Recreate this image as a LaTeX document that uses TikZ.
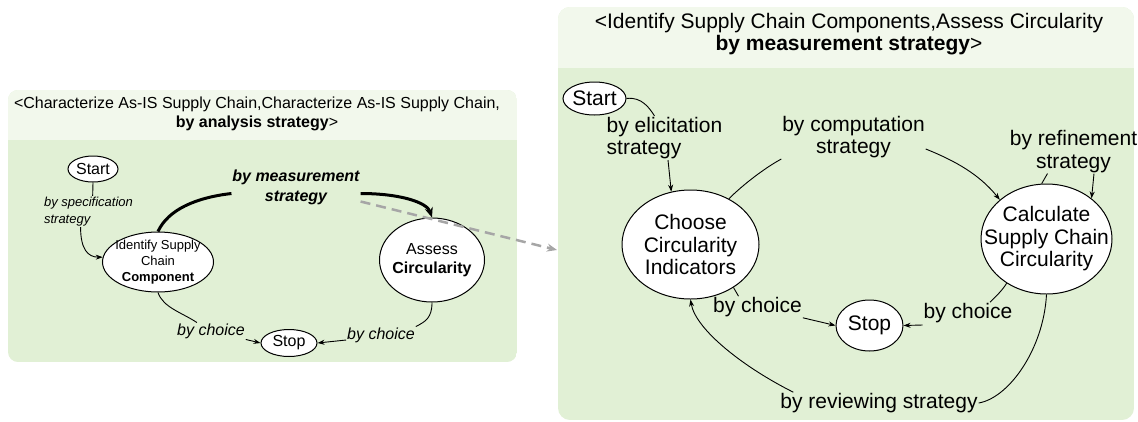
\documentclass[tikz,border=0pt]{standalone}
\usepackage{fontspec}
\setmainfont{Liberation Sans}
\usetikzlibrary{shapes.geometric,arrows.meta}

\definecolor{panelbody}{HTML}{E1F0D5}
\definecolor{panelhead}{HTML}{F2F8EC}
\definecolor{linkgray}{HTML}{A6A6A6}

\newcommand\fsmall{\fontsize{13}{16}\selectfont}
\newcommand\fspec{\fontsize{13}{17}\selectfont\itshape}
\newcommand\fmid{\fontsize{16}{19.5}\selectfont}
\newcommand\fbig{\fontsize{21}{22.5}\selectfont}

\tikzset{
  stnode/.style={ellipse, draw, fill=white, line width=1pt, inner sep=0pt},
  sttext/.style={align=center, inner sep=0pt},
  lbl/.style={inner sep=1pt, outer sep=0pt, align=center},
  conn/.style={line width=0.9pt},
  tip/.style={-{Stealth[length=7pt,width=5pt]}},
}

\begin{document}
\begin{tikzpicture}[x=1pt, y=-1pt]
\useasboundingbox (0,0) rectangle (1138,421);

% Panels
\begin{scope}
  \clip[rounded corners=10pt] (8,90) rectangle (517,362);
  \fill[panelbody] (8,90) rectangle (517,362);
  \fill[panelhead] (8,90) rectangle (517,140);
\end{scope}
\begin{scope}
  \clip[rounded corners=12pt] (558,7) rectangle (1134,420);
  \fill[panelbody] (558,7) rectangle (1134,420);
  \fill[panelhead] (558,7) rectangle (1134,68);
\end{scope}

% Headers
\node[lbl, font=\fmid] (lhead) at (257,114)
  {<Characterize As-IS Supply Chain,Characterize As-IS Supply Chain,\\\textbf{by analysis strategy}>};
\node[lbl, font=\fbig] (rhead) at (849,34)
  {<Identify Supply Chain Components,Assess Circularity\\\textbf{by measurement strategy}>};

% Left map: states
\node[stnode, minimum width=50pt, minimum height=26pt, font=\fmid] (lstart) at (93,169) {Start};
\node[stnode, minimum width=111pt, minimum height=60pt,
  label={[sttext, font=\fsmall]center:Identify Supply\\Chain\\\textbf{Component}}] (lidc) at (158,262) {};
\node[stnode, minimum width=105pt, minimum height=84pt,
  label={[sttext, font=\fmid]center:Assess\\\textbf{Circularity}}] (lac) at (432,260) {};
\node[stnode, minimum width=56pt, minimum height=27pt, font=\fmid] (lstop) at (289,343) {Stop};

% Left map: strategy labels
\node[lbl, align=left, font=\fspec] (lspec) at (88.5,211.5) {by specification\\strategy};
\node[lbl, font=\fmid\bfseries\itshape] (lmeas) at (296,187.5) {by measurement\\strategy};
\node[lbl, font=\fmid\itshape] (lch1) at (211,331) {by choice};
\node[lbl, font=\fmid\itshape] (lch2) at (381,335) {by choice};

% Left map: sections
\draw[conn] (lstart.south) -- (lspec.75);
\draw[conn, tip] (lspec.-117) .. controls +(0,22) and +(-15,0) .. (lidc.175);
\draw[line width=3pt] (lidc.north) .. controls +(10,-22) and +(-35,4) .. ([yshift=-6pt]lmeas.west);
\draw[line width=3pt, -{Stealth[length=10pt,width=8pt]}]
  ([yshift=-6pt]lmeas.east) .. controls +(40,0) and +(-5,-15) .. (lac.north);
\draw[conn] (lidc.south) .. controls +(5,15) and +(-15,-10) .. (lch1.149);
\draw[conn, tip] (lch1.south east) -- (lstop.west);
\draw[conn] (lac.south) .. controls +(0,15) and +(10,-5) .. (lch2.north east);
\draw[conn, tip] ([yshift=-5pt]lch2.west) -- (lstop.east);

% Refinement link
\coordinate (rentry) at (557,250);
\draw[line width=2.5pt, linkgray, dash pattern=on 10pt off 6pt, -{Stealth[length=10pt,width=8pt]}]
  ([yshift=-14pt]lmeas.east) -- (rentry);

% Right map: states
\node[stnode, minimum width=63pt, minimum height=33pt, font=\fbig] (rstart) at (594.5,98.5) {Start};
\node[stnode, minimum width=137pt, minimum height=109pt,
  label={[sttext, font=\fbig]center:Choose\\Circularity\\Indicators}] (rchoose) at (690.5,244.5) {};
\node[stnode, minimum width=131pt, minimum height=110pt,
  label={[sttext, font=\fbig]center:Calculate\\Supply Chain\\Circularity}] (rcalc) at (1046.5,239) {};
\node[stnode, minimum width=67pt, minimum height=51pt, font=\fbig] (rstop) at (869.5,325.5) {Stop};

% Right map: strategy labels
\node[lbl, align=left, font=\fbig] (rel) at (664.5,138) {by elicitation\\strategy};
\node[lbl, font=\fbig] (rcomp) at (853.5,137) {by computation\\strategy};
\node[lbl, font=\fbig] (rref) at (1073.5,151.5) {by refinement\\strategy};
\node[lbl, font=\fbig] (rch1) at (757.5,307) {by choice};
\node[lbl, font=\fbig] (rch2) at (968,313) {by choice};
\node[lbl, font=\fbig] (rrev) at (879,403) {by reviewing strategy};

% Right map: sections
\draw[conn] (rstart.east) .. controls +(15,-2) and +(-5,-8) .. ([xshift=-10pt]rel.north);
\draw[conn, tip] ([xshift=3.5pt]rel.south) -- (rchoose.110);
\draw[conn] (rchoose.50) .. controls +(15,-15) and +(-15,8) .. (rcomp.south west);
\draw[conn, tip] ([yshift=-12pt]rcomp.east) .. controls +(30,12) and +(-20,-25) .. (rcalc.140);
\draw[conn] (rcalc.95) -- ([xshift=-26pt]rref.south);
\draw[conn, tip] ([xshift=20.5pt]rref.south) -- (rcalc.42);
\draw[conn] (rchoose.-45) -- ([xshift=-19pt]rch1.north);
\draw[conn, tip] (rch1.south east) -- (rstop.west);
\draw[conn] (rcalc.-132) .. controls +(-5,8) and +(5,-5) .. ([xshift=22pt]rch2.north);
\draw[conn, tip] ([yshift=-12pt]rch2.west) -- (rstop.east);
\draw[conn] (rcalc.south) .. controls +(-3,55) and +(30,-5) .. (rrev.east);
\draw[conn, tip] ([xshift=14pt]rrev.north west) .. controls +(-50,-25) and +(5,30) .. (rchoose.south);

\end{tikzpicture}
\end{document}
